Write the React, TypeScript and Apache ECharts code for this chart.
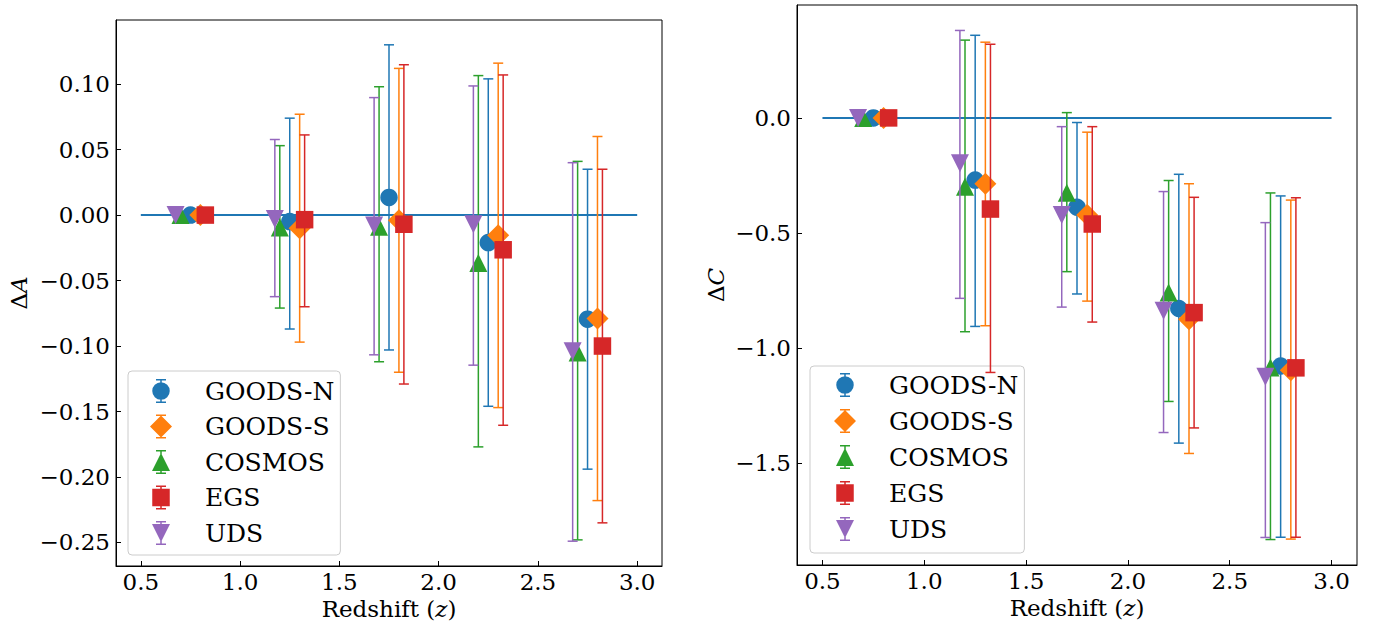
import React, { useEffect, useRef } from "react";
import * as echarts from "echarts";

// ---------- data ----------
const fields = ["GOODS-N", "GOODS-S", "COSMOS", "EGS", "UDS"];
const redshiftBins = [0.75, 1.25, 1.75, 2.25, 2.75];
const fieldOffsets = [0, 0.05, -0.05, 0.075, -0.075];
const hlineRange = [0.5, 3.0];

const xTicks = [0.5, 1.0, 1.5, 2.0, 2.5, 3.0];
const leftYTicks = [0.1, 0.05, 0.0, -0.05, -0.1, -0.15, -0.2, -0.25];
const rightYTicks = [0.0, -0.5, -1.0, -1.5];

// Delta A (value, lower bound, upper bound)
const dA_goodsN = [0, -0.005, 0.0135, -0.021, -0.0795];
const dA_goodsN_lo = [null, -0.087, -0.103, -0.146, -0.194];
const dA_goodsN_hi = [null, 0.074, 0.13, 0.104, 0.035];
const dA_goodsS = [0, -0.01, -0.004, -0.0155, -0.079];
const dA_goodsS_lo = [null, -0.097, -0.12, -0.147, -0.218];
const dA_goodsS_hi = [null, 0.077, 0.112, 0.116, 0.06];
const dA_cosmos = [0, -0.0095, -0.009, -0.0365, -0.105];
const dA_cosmos_lo = [null, -0.071, -0.112, -0.177, -0.248];
const dA_cosmos_hi = [null, 0.053, 0.098, 0.1065, 0.041];
const dA_egs = [0, -0.0035, -0.007, -0.0265, -0.1];
const dA_egs_lo = [null, -0.07, -0.129, -0.1605, -0.235];
const dA_egs_hi = [null, 0.0612, 0.1148, 0.107, 0.035];
const dA_uds = [0, -0.003, -0.008, -0.007, -0.104];
const dA_uds_lo = [null, -0.0623, -0.1067, -0.1146, -0.249];
const dA_uds_hi = [null, 0.0577, 0.0897, 0.0986, 0.04];

// Delta C
const dC_goodsN = [0, -0.27, -0.388, -0.828, -1.078];
const dC_goodsN_lo = [null, -0.906, -0.765, -1.413, -1.822];
const dC_goodsN_hi = [null, 0.359, -0.02, -0.245, -0.339];
const dC_goodsS = [0, -0.286, -0.422, -0.875, -1.096];
const dC_goodsS_lo = [null, -0.903, -0.796, -1.458, -1.83];
const dC_goodsS_hi = [null, 0.329, -0.062, -0.286, -0.357];
const dC_cosmos = [0, -0.299, -0.325, -0.759, -1.084];
const dC_cosmos_lo = [null, -0.929, -0.668, -1.232, -1.832];
const dC_cosmos_hi = [null, 0.338, 0.023, -0.272, -0.326];
const dC_egs = [0, -0.396, -0.461, -0.846, -1.086];
const dC_egs_lo = [null, -1.106, -0.887, -1.347, -1.822];
const dC_egs_hi = [null, 0.32, -0.038, -0.345, -0.347];
const dC_uds = [0, -0.197, -0.422, -0.838, -1.125];
const dC_uds_lo = [null, -0.784, -0.822, -1.367, -1.823];
const dC_uds_hi = [null, 0.38, -0.038, -0.32, -0.455];

// ---------- styles ----------
const colors = ["#1f77b4", "#ff7f0e", "#2ca02c", "#d62728", "#9467bd"];
const FONT = "DejaVu Serif";

const panelA = {
  vals: [dA_goodsN, dA_goodsS, dA_cosmos, dA_egs, dA_uds],
  los: [dA_goodsN_lo, dA_goodsS_lo, dA_cosmos_lo, dA_egs_lo, dA_uds_lo],
  his: [dA_goodsN_hi, dA_goodsS_hi, dA_cosmos_hi, dA_egs_hi, dA_uds_hi],
};
const panelC = {
  vals: [dC_goodsN, dC_goodsS, dC_cosmos, dC_egs, dC_uds],
  los: [dC_goodsN_lo, dC_goodsS_lo, dC_cosmos_lo, dC_egs_lo, dC_uds_lo],
  his: [dC_goodsN_hi, dC_goodsS_hi, dC_cosmos_hi, dC_egs_hi, dC_uds_hi],
};

const triDown = "path://M0,0L20,0L10,20Z";
const markerSymbols = ["circle", "diamond", "triangle", "rect", triDown];
const markerSizes: any[] = [17.5, 22, [18, 18], 17.5, [18, 18]];

function paddedRange(p: any) {
  const all: number[] = [0];
  [p.vals, p.los, p.his].forEach((g: any[]) =>
    g.forEach((arr: any[]) => arr.forEach((v) => v != null && all.push(v)))
  );
  const lo = Math.min(...all);
  const hi = Math.max(...all);
  const pad = 0.05 * (hi - lo);
  return [lo - pad, hi + pad];
}

const xPad = 0.05 * (hlineRange[1] - hlineRange[0]);
const X_MIN = hlineRange[0] - xPad;
const X_MAX = hlineRange[1] + xPad;

// legend icons (26 x 30 box), all subpaths clockwise
const rectP = (x: number, y: number, w: number, h: number) =>
  `M${x},${y}h${w}v${h}h${-w}Z`;
const iconBase =
  rectP(0, 0, 0.01, 0.01) +
  rectP(25.99, 29.99, 0.01, 0.01) +
  rectP(12.25, 3, 1.5, 24) +
  rectP(8, 3, 10, 1.5) +
  rectP(8, 25.5, 10, 1.5);
const r = 8.75;
const legendMarkers = [
  `M${13 - r},15A${r},${r} 0 1,1 ${13 + r},15A${r},${r} 0 1,1 ${13 - r},15Z`,
  "M13,4L24,15L13,26L2,15Z",
  "M13,6L22,24L4,24Z",
  rectP(4.25, 6.25, 17.5, 17.5),
  "M4,6L22,6L13,24Z",
];
const legendIcons = legendMarkers.map((m) => "path://" + iconBase + m);

const minus = (s: string) => s.replace("-", "\u2212");

export default function App() {
  const ref = useRef<HTMLDivElement>(null);

  useEffect(() => {
    if (!ref.current) return;
    const chart = echarts.init(ref.current, null, { renderer: "svg" });
    const axisFont = { fontFamily: FONT, fontSize: 23, color: "#000" };

    const grids = [
      { left: 116, top: 20, width: 546, height: 546 },
      { left: 797, top: 5, width: 560, height: 560 },
    ];
    const panels = [panelA, panelC];
    const yRanges = panels.map(paddedRange);

    const xAxes = [0, 1].map((p) => ({
      type: "value",
      gridIndex: p,
      min: X_MIN,
      max: X_MAX,
      name: "Redshift ({i|z})",
      nameLocation: "middle",
      nameGap: 27,
      nameTextStyle: {
        ...axisFont,
        rich: { i: { ...axisFont, fontStyle: "italic" } },
      },
      axisLine: { show: true, onZero: false, lineStyle: { color: "#000", width: 1 } },
      axisTick: {
        show: true,
        inside: true,
        length: 5,
        customValues: xTicks,
        lineStyle: { color: "#000", width: 1 },
      },
      axisLabel: {
        ...axisFont,
        margin: 4,
        customValues: xTicks,
        formatter: (v: number) => minus(v.toFixed(1)),
      },
      splitLine: { show: false },
    }));

    const yTicks = [leftYTicks, rightYTicks];
    const yDec = [2, 1];
    const yNames = ["\u0394{i|A}", "\u0394{i|C}"];
    const yGaps = [86, 70];
    const yAxes = [0, 1].map((p) => ({
      type: "value",
      gridIndex: p,
      min: yRanges[p][0],
      max: yRanges[p][1],
      name: yNames[p],
      nameLocation: "middle",
      nameGap: yGaps[p],
      nameTextStyle: {
        ...axisFont,
        rich: { i: { ...axisFont, fontStyle: "italic" } },
      },
      axisLine: { show: true, onZero: false, lineStyle: { color: "#000", width: 1 } },
      axisTick: {
        show: true,
        inside: true,
        length: 5,
        customValues: yTicks[p],
        lineStyle: { color: "#000", width: 1 },
      },
      axisLabel: {
        ...axisFont,
        margin: 6,
        customValues: yTicks[p],
        formatter: (v: number) => minus(v.toFixed(yDec[p])),
      },
      splitLine: { show: false },
    }));

    const series: any[] = [];
    panels.forEach((panel, p) => {
      series.push({
        type: "line",
        xAxisIndex: p,
        yAxisIndex: p,
        data: [
          [hlineRange[0], 0],
          [hlineRange[1], 0],
        ],
        symbol: "none",
        lineStyle: { color: colors[0], width: 2 },
        silent: true,
        z: 1,
      });
      fields.forEach((f, i) => {
        const errData: any[] = [];
        redshiftBins.forEach((zb, k) => {
          const lo = panel.los[i][k];
          const hi = panel.his[i][k];
          if (lo != null && hi != null) errData.push([zb + fieldOffsets[i], lo, hi]);
        });
        const color = colors[i];
        series.push({
          type: "custom",
          name: f + " error",
          xAxisIndex: p,
          yAxisIndex: p,
          data: errData,
          encode: { x: 0, y: [1, 2] },
          silent: true,
          z: 2 + 2 * i,
          renderItem: (params: any, api: any) => {
            const x = api.value(0);
            const top = api.coord([x, api.value(2)]);
            const bot = api.coord([x, api.value(1)]);
            const style = { stroke: color, lineWidth: 1.5, fill: null };
            const cap = 5;
            return {
              type: "group",
              children: [
                { type: "line", shape: { x1: top[0], y1: top[1], x2: bot[0], y2: bot[1] }, style },
                { type: "line", shape: { x1: top[0] - cap, y1: top[1], x2: top[0] + cap, y2: top[1] }, style },
                { type: "line", shape: { x1: bot[0] - cap, y1: bot[1], x2: bot[0] + cap, y2: bot[1] }, style },
              ],
            };
          },
        });
        series.push({
          type: "scatter",
          name: f,
          xAxisIndex: p,
          yAxisIndex: p,
          data: redshiftBins.map((zb, k) => [zb + fieldOffsets[i], panel.vals[i][k]]),
          symbol: markerSymbols[i],
          symbolSize: markerSizes[i],
          itemStyle: { color, opacity: 1 },
          z: 3 + 2 * i,
        });
      });
    });

    const legendBase = {
      orient: "vertical",
      selectedMode: false,
      itemWidth: 26,
      itemHeight: 30,
      symbolRotate: 0,
      backgroundColor: "rgba(255,255,255,0.8)",
      borderColor: "#cccccc",
      borderWidth: 1,
      borderRadius: 4,
      textStyle: {
        fontFamily: FONT,
        fontSize: 25,
        color: "#000",
        lineHeight: 30,
        padding: [0, 0, 0, 26],
      },
      data: fields.map((f, i) => ({ name: f, icon: legendIcons[i] })),
    };

    chart.setOption({
      animation: false,
      backgroundColor: "#fff",
      grid: grids.map((g) => ({
        ...g,
        show: true,
        borderColor: "#000",
        borderWidth: 1,
        backgroundColor: "transparent",
        containLabel: false,
        outerBoundsMode: "none",
      })),
      xAxis: xAxes,
      yAxis: yAxes,
      legend: [
        { ...legendBase, left: 128, top: 371, itemGap: 5.5, padding: [5, 6, 7, 20] },
        { ...legendBase, left: 810, top: 366, itemGap: 6, padding: [4, 6, 9, 22] },
      ],
      series,
    });

    return () => chart.dispose();
  }, []);

  return (
    <div
      ref={ref}
      style={{ position: "absolute", left: 0, top: 0, width: 1375, height: 624 }}
    />
  );
}
